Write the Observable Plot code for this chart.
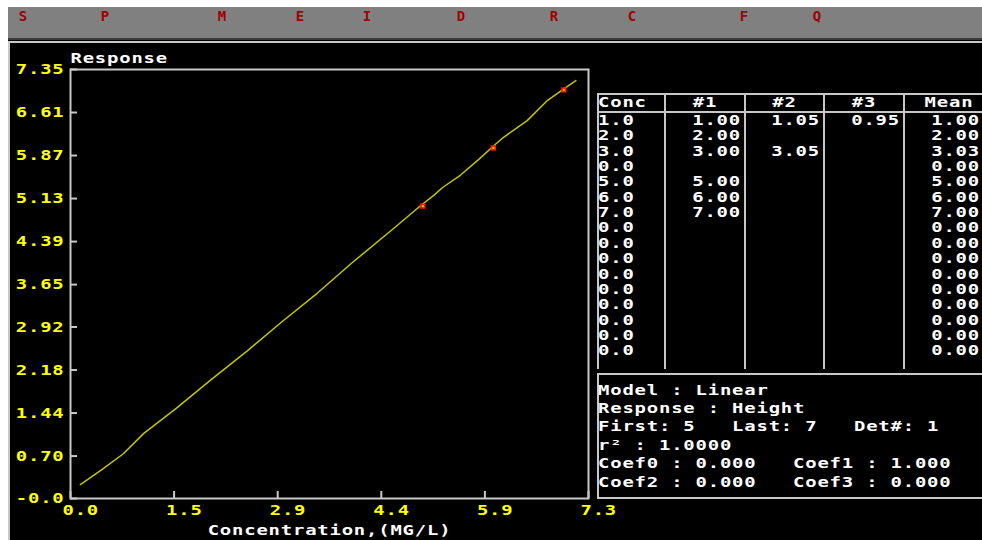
<!DOCTYPE html>
<html>
<head>
<meta charset="utf-8">
<script src="https://cdn.jsdelivr.net/npm/d3@7"></script>
<script src="https://cdn.jsdelivr.net/npm/@observablehq/plot@0.6"></script>
<style>
  html, body { margin: 0; padding: 0; background: #fff; width: 982px; height: 540px; overflow: hidden; }
  #root { position: relative; width: 982px; height: 540px; overflow: hidden; }
  /* wide bitmap-style screen font: mono glyphs stretched horizontally */
  .dos { font-family: "DejaVu Sans Mono", monospace; font-weight: bold; font-size: 14px; letter-spacing: 0.6px; white-space: pre; line-height: 16px; transform: scaleX(1.35); transform-origin: left center; }
  .dos.right { transform-origin: right center; text-align: right; }
  .dos.center { transform-origin: center center; text-align: center; }
  .abs { position: absolute; }
  .rule { position: absolute; background: #c8c8c8; }
  #chart { position: absolute; left: 0; top: 0; }
</style>
</head>
<body>
<div id="root"></div>
<script>
// Function-key menu across the top of the screen
const menuKeys = ["S", "P", "M", "E", "I", "D", "R", "C", "F", "Q"];

// Calibration table: concentration levels, replicate responses and their mean
const conc  = ["1.0", "2.0", "3.0", "0.0", "5.0", "6.0", "7.0", "0.0", "0.0", "0.0", "0.0", "0.0", "0.0", "0.0", "0.0", "0.0"];
const rep1  = ["1.00", "2.00", "3.00", "", "5.00", "6.00", "7.00", "", "", "", "", "", "", "", "", ""];
const rep2  = ["1.05", "", "3.05", "", "", "", "", "", "", "", "", "", "", "", "", ""];
const rep3  = ["0.95", "", "", "", "", "", "", "", "", "", "", "", "", "", "", ""];
const meanResp = ["1.00", "2.00", "3.03", "0.00", "5.00", "6.00", "7.00", "0.00", "0.00", "0.00", "0.00", "0.00", "0.00", "0.00", "0.00", "0.00"];
const tableHeaders = ["Conc", "#1", "#2", "#3", "Mean"];

// Fit summary
const firstRow = 5;
const lastRow = 7;
const modelLines = [
  "Model : Linear",
  "Response : Height",
  `First: ${firstRow}   Last: ${lastRow}   Det#: 1`,
  "r\u00b2 : 1.0000",
  "Coef0 : 0.000   Coef1 : 1.000",
  "Coef2 : 0.000   Coef3 : 0.000"
];

// Axis ticks and their printed labels
const xTickValues = [0, 1.47, 2.94, 4.41, 5.88, 7.35];
const xTickLabels = ["0.0", "1.5", "2.9", "4.4", "5.9", "7.3"];
const yTickValues = [-0.03, 0.70, 1.44, 2.18, 2.92, 3.65, 4.39, 5.13, 5.87, 6.61, 7.35];
const yTickLabels = ["-0.0", "0.70", "1.44", "2.18", "2.92", "3.65", "4.39", "5.13", "5.87", "6.61", "7.35"];

// Fitted response curve as traced on screen
const curveX = [0.14, 0.45, 0.75, 1.04, 1.50, 2.00, 2.50, 3.00, 3.50, 4.00, 4.58, 4.97, 5.15, 5.28, 5.53, 5.79, 5.99, 6.14, 6.48, 6.77, 6.98, 7.17];
const curveY = [0.21, 0.47, 0.74, 1.09, 1.52, 2.02, 2.50, 3.01, 3.50, 4.03, 4.61, 5.01, 5.18, 5.32, 5.53, 5.80, 6.02, 6.18, 6.47, 6.82, 7.00, 7.16];

// ---------------------------------------------------------------------------
const root = document.getElementById("root");
function box(cls, css, text) {
  const el = document.createElement("div");
  el.className = cls;
  Object.assign(el.style, css);
  if (text !== undefined) el.textContent = text;
  root.appendChild(el);
  return el;
}

// screen background, menu bar and bevel lines
box("abs", {left: "8px", top: "7px", width: "974px", height: "533px", background: "#000"});
box("abs", {left: "8px", top: "7px", width: "974px", height: "31px", background: "#808080"});
box("abs", {left: "8px", top: "38px", width: "974px", height: "2px", background: "#3a3a3a"});
box("abs", {left: "8px", top: "41px", width: "974px", height: "2px", background: "#c8c8c8"});
box("abs", {left: "8px", top: "41px", width: "2px", height: "499px", background: "#c8c8c8"});

const menuX = [23, 105, 222, 300, 367, 461, 554, 632, 744, 817];
menuKeys.forEach((k, i) => {
  box("abs dos center", {left: (menuX[i] - 10) + "px", top: "8px", width: "20px",
    letterSpacing: "0", transform: "none", color: "#a00000"}, k);
});

// ---------------------------------------------------------------------------
// Response vs concentration chart
const yLabel = new Map(yTickValues.map((v, i) => [v, yTickLabels[i]]));
const xLabel = new Map(xTickValues.map((v, i) => [v, xTickLabels[i]]));
const curve = curveX.map((x, i) => ({x, y: curveY[i]}));
const calPoints = d3.range(firstRow - 1, lastRow).map(i => ({x: +conc[i], y: +meanResp[i]}));

const chart = Plot.plot({
  width: 620,
  height: 540,
  marginLeft: 70,
  marginRight: 32,
  marginTop: 69,
  marginBottom: 42,
  style: {
    background: "transparent",
    fontFamily: '"DejaVu Sans Mono", monospace',
    fontSize: "14px",
    fontWeight: "bold",
    letterSpacing: "0.6px",
    overflow: "visible"
  },
  x: {domain: [0, 7.35]},
  y: {domain: [-0.03, 7.35]},
  marks: [
    Plot.axisY(yTickValues, {tickSize: 0, tickPadding: 6, tickFormat: d => yLabel.get(d), fill: "#ffff00", label: null}),
    Plot.axisY(yTickValues, {tickSize: -7, tickFormat: () => "", stroke: "#c8c8c8", strokeWidth: 2, label: null}),
    Plot.axisX(xTickValues, {tickSize: 0, tickPadding: 7, tickFormat: d => xLabel.get(d), fill: "#ffff00", textAnchor: "start", dx: -8, label: null}),
    Plot.axisX(xTickValues, {tickSize: -7, tickFormat: () => "", stroke: "#c8c8c8", strokeWidth: 2, label: null}),
    Plot.frame({stroke: "#c8c8c8", strokeWidth: 2}),
    Plot.line(curve, {x: "x", y: "y", stroke: "#c4c400", strokeWidth: 1.5}),
    Plot.dot(calPoints, {x: "x", y: "y", symbol: "square", r: 3, fill: "#ff1a00"}),
    Plot.dot(calPoints, {x: "x", y: "y", symbol: "square", r: 1.1, fill: "#ffd200"}),
    Plot.text(["Response"], {frameAnchor: "top-left", textAnchor: "start", lineAnchor: "middle", dy: -11, fill: "#ffffff"}),
    Plot.text(["Concentration,(MG/L)"], {frameAnchor: "bottom", lineAnchor: "middle", dy: 32, fill: "#ffffff"})
  ]
});
chart.id = "chart";
root.appendChild(chart);

// stretch every chart label horizontally about its own anchor point
chart.querySelectorAll("text").forEach(t => {
  const x = parseFloat(t.getAttribute("x")) || 0;
  const base = t.getAttribute("transform") || "";
  t.setAttribute("transform", `${base} translate(${x},0) scale(1.35,1) translate(${-x},0)`);
});

// ---------------------------------------------------------------------------
// Calibration table
const colEdges = [597, 664, 744, 823, 903, 993];
const tableTop = 93, headBottom = 111, tableBottom = 369;
const rowTop = 120, rowStep = 15.35;

box("rule", {left: "597px", top: tableTop + "px", width: "400px", height: "2px"});
box("rule", {left: "597px", top: headBottom + "px", width: "400px", height: "2px"});
colEdges.forEach(x => box("rule", {left: x + "px", top: tableTop + "px", width: "2px", height: (tableBottom - tableTop) + "px"}));

tableHeaders.forEach((h, c) => {
  const l = colEdges[c] + 2, r = colEdges[c + 1];
  if (c === 0) box("abs dos", {left: "598px", top: "94px", color: "#fff"}, h);
  else box("abs dos center", {left: l + "px", top: "94px", width: (r - l) + "px", color: "#fff"}, h);
});

const valueCols = [rep1, rep2, rep3, meanResp];
const valueRight = [740.5, 820, 900, 979.5];
conc.forEach((v, i) => {
  const top = (rowTop + i * rowStep - 8) + "px";
  box("abs dos", {left: "598px", top, color: "#fff"}, v);
  valueCols.forEach((col, c) => {
    if (!col[i]) return;
    box("abs dos right", {left: (valueRight[c] - 70) + "px", top, width: "70px", color: "#fff"}, col[i]);
  });
});

// Fit summary box
box("rule", {left: "597px", top: "373px", width: "400px", height: "2px"});
box("rule", {left: "597px", top: "373px", width: "2px", height: "126px"});
box("rule", {left: "597px", top: "497px", width: "400px", height: "2px"});
modelLines.forEach((line, i) => {
  box("abs dos", {left: "598px", top: (389.5 + i * 18.4 - 8) + "px", color: "#fff"}, line);
});
</script>
</body>
</html>
